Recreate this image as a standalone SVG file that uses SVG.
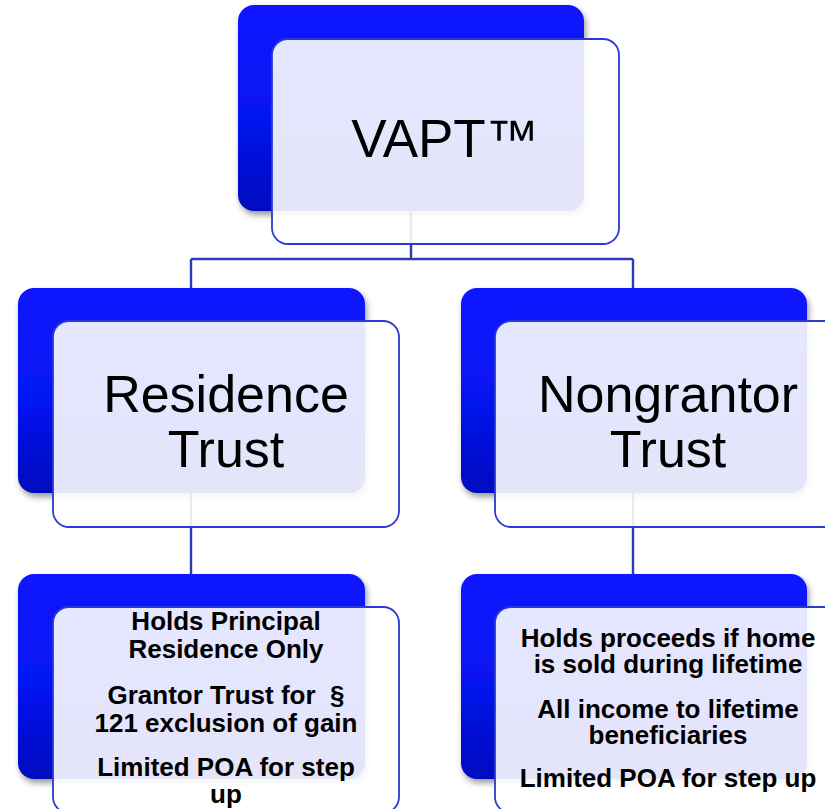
<svg xmlns="http://www.w3.org/2000/svg" width="825" height="809" viewBox="0 0 825 809">
  <defs>
    <linearGradient id="blueFill" x1="0" y1="0" x2="0" y2="1">
      <stop offset="0" stop-color="#0A16FF"/>
      <stop offset="0.55" stop-color="#0612F0"/>
      <stop offset="1" stop-color="#0010BE"/>
    </linearGradient>
    <filter id="drop" x="-10%" y="-10%" width="125%" height="130%">
      <feGaussianBlur in="SourceAlpha" stdDeviation="3"/>
      <feOffset dx="2" dy="4" result="b"/>
      <feComponentTransfer><feFuncA type="linear" slope="0.4"/></feComponentTransfer>
      <feMerge><feMergeNode/><feMergeNode in="SourceGraphic"/></feMerge>
    </filter>
    <style>
      .back { fill: url(#blueFill); filter: url(#drop); }
      .front { fill: #FFFFFF; fill-opacity: 0.895; stroke: #2B39D6; stroke-width: 1.8; }
      .wire { fill: none; stroke: #2E3AB8; stroke-width: 2.4; }
      .title { font-family: "Liberation Sans", Arial, sans-serif; font-size: 52px; fill: #000; text-anchor: middle; }
      .body { font-family: "Liberation Sans", Arial, sans-serif; font-size: 26px; font-weight: bold; fill: #000; text-anchor: middle; }
    </style>
  </defs>
  <rect width="825" height="809" fill="#FFFFFF"/>

  <!-- connectors drawn first so the node cards sit on top -->
  <g id="connectors">
    <path class="wire" d="M411,200 V259 M191,259 H633 M191,259 V300 M633,259 V300"/>
    <path class="wire" d="M191,480 V585"/>
    <path class="wire" d="M633,480 V585"/>
  </g>

  <g id="vapt">
    <rect class="back" x="238" y="5" width="346" height="206" rx="16"/>
    <rect class="front" x="272" y="39" width="347" height="205" rx="16"/>
    <text class="title" x="445" y="157" style="font-size:53px">VAPT™</text>
  </g>

  <g id="residence-trust">
    <rect class="back" x="18" y="288" width="347" height="205" rx="16"/>
    <rect class="front" x="53" y="321" width="346" height="206" rx="16"/>
    <text class="title"><tspan x="226" y="412">Residence</tspan><tspan x="226" y="467">Trust</tspan></text>
  </g>

  <g id="nongrantor-trust">
    <rect class="back" x="461" y="288" width="346" height="205" rx="16"/>
    <rect class="front" x="495" y="321" width="346" height="206" rx="16"/>
    <text class="title"><tspan x="668" y="412">Nongrantor</tspan><tspan x="668" y="467">Trust</tspan></text>
  </g>

  <g id="residence-details">
    <rect class="back" x="18" y="574" width="347" height="205" rx="16"/>
    <rect class="front" x="53" y="607" width="346" height="206" rx="16"/>
    <text class="body"><tspan x="226" y="630">Holds Principal</tspan><tspan x="226" y="658">Residence Only</tspan></text>
    <text class="body"><tspan x="226" y="704">Grantor Trust for&#160; §</tspan><tspan x="226" y="732">121 exclusion of gain</tspan></text>
    <text class="body"><tspan x="226" y="776">Limited POA for step</tspan><tspan x="226" y="803">up</tspan></text>
  </g>

  <g id="nongrantor-details">
    <rect class="back" x="461" y="574" width="346" height="205" rx="16"/>
    <rect class="front" x="495" y="607" width="346" height="206" rx="16"/>
    <text class="body"><tspan x="668" y="647">Holds proceeds if home</tspan><tspan x="668" y="673">is sold during lifetime</tspan></text>
    <text class="body"><tspan x="668" y="718">All income to lifetime</tspan><tspan x="668" y="744">beneficiaries</tspan></text>
    <text class="body" x="668" y="787">Limited POA for step up</text>
  </g>
</svg>
